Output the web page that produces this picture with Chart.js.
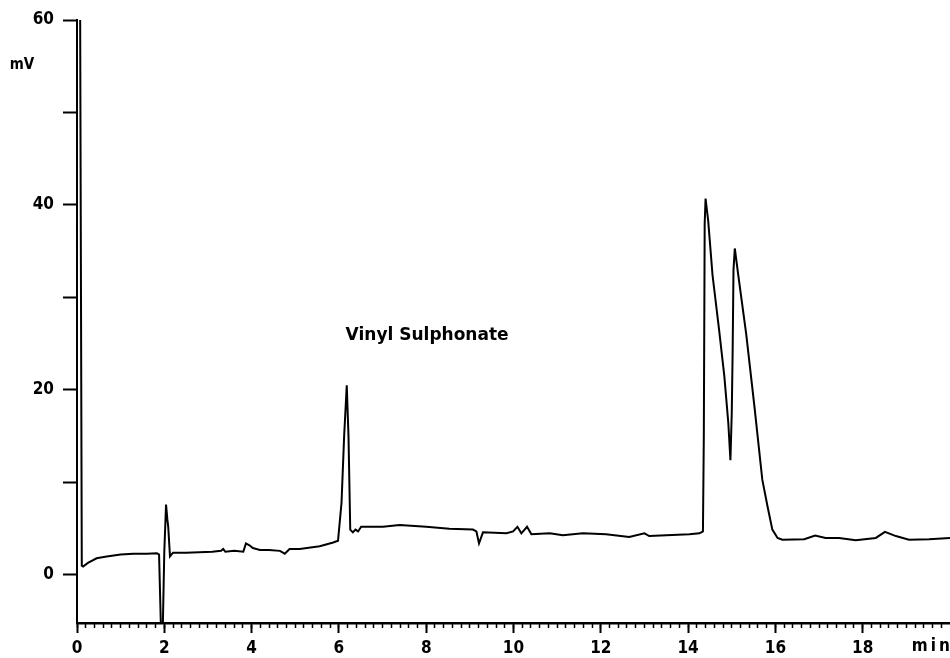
<!DOCTYPE html>
<html>
<head>
<meta charset="utf-8">
<title>Vinyl Sulphonate chromatogram</title>
<script src="https://cdn.jsdelivr.net/npm/chart.js@4/dist/chart.umd.min.js"></script>
<style>
    body { margin: 0; background: #fff; }
    #wrap { width: 950px; height: 658px; }
</style>
</head>
<body>
<div id="wrap"><canvas id="chromChart" width="950" height="658"></canvas></div>
<script>
// retention time (min) and detector signal (mV)
const timeMin = [
    0, 0.07, 0.11, 0.14, 0.25, 0.45, 0.68, 1.0, 1.29, 1.6, 1.83, 1.88, 1.93, 1.96,
    2.0, 2.04, 2.07, 2.09, 2.13, 2.2, 2.5, 2.8, 3.1, 3.3, 3.35, 3.4, 3.6, 3.81, 3.87,
    3.95, 4.03, 4.19, 4.4, 4.65, 4.76, 4.87, 5.1, 5.56, 5.87, 5.98, 6.06, 6.12, 6.18,
    6.22, 6.26, 6.32, 6.38, 6.44, 6.51, 7.01, 7.39, 8.0, 8.53, 9.07, 9.15, 9.21, 9.3,
    9.84, 9.99, 10.09, 10.18, 10.31, 10.41, 10.83, 11.13, 11.59, 12.12, 12.65, 13.0,
    13.11, 14.03, 14.26, 14.34, 14.36, 14.38, 14.4, 14.46, 14.56, 14.71, 14.83, 14.92,
    14.97, 15.0, 15.02, 15.04, 15.07, 15.15, 15.33, 15.52, 15.7, 15.82, 15.93, 16.05,
    16.16, 16.66, 16.91, 17.15, 17.46, 17.84, 18.3, 18.51, 18.76, 19.06, 19.52, 20.0
];
const signalMv = [
    64, 64, 1.0, 0.9, 1.3, 1.8, 2.0, 2.2, 2.3, 2.3, 2.35, 2.2, -7, -7,
    2.5, 7.6, 6.0, 5.2, 2.0, 2.4, 2.4, 2.45, 2.5, 2.6, 2.8, 2.5, 2.6, 2.5, 3.4,
    3.2, 2.9, 2.7, 2.7, 2.6, 2.3, 2.8, 2.8, 3.1, 3.5, 3.7, 7.8, 15, 20.5,
    15, 4.9, 4.6, 4.9, 4.7, 5.2, 5.2, 5.4, 5.2, 5.0, 4.9, 4.7, 3.4, 4.6,
    4.5, 4.7, 5.2, 4.5, 5.2, 4.4, 4.5, 4.3, 4.5, 4.4, 4.1, 4.5,
    4.2, 4.4, 4.5, 4.7, 15, 38, 40.7, 38.3, 32.4, 26.5, 21.5, 16.5,
    12.4, 17.5, 24, 33, 35.3, 32.4, 26.1, 18.2, 10.3, 7.4, 4.9, 4.0,
    3.8, 3.85, 4.25, 4.0, 4.0, 3.75, 4.0, 4.65, 4.2, 3.8, 3.85, 4.0
];
const yLabelTicks = [0, 20, 40, 60];
const peakLabel = {text: 'Vinyl Sulphonate', t: 8.02, mv: 25.9};

const tickFont = {family: 'DejaVu Sans Condensed', size: 17, weight: 'bold'};

// free text on the plot: unit labels and the peak name
const textLabels = {
    id: 'textLabels',
    afterDraw(chart) {
        const ctx = chart.ctx;
        const xs = chart.scales.x;
        const ys = chart.scales.y;
        ctx.save();
        ctx.fillStyle = '#000';
        ctx.textAlign = 'center';
        ctx.textBaseline = 'middle';

        ctx.font = 'bold 15px "DejaVu Sans Condensed"';
        ctx.fillText('mV', 22, 65);

        ctx.font = 'bold 17px "DejaVu Sans Condensed"';
        ctx.letterSpacing = '3px';
        ctx.fillText('min', xs.getPixelForValue(19.55) + 2, 647);
        ctx.letterSpacing = '0px';

        ctx.font = 'bold 17px "DejaVu Sans"';
        ctx.fillText(peakLabel.text, xs.getPixelForValue(peakLabel.t), ys.getPixelForValue(peakLabel.mv));
        ctx.restore();
    }
};

document.addEventListener('DOMContentLoaded', function () {
    const canvas = document.getElementById('chromChart');
    new Chart(canvas, {
        type: 'line',
        data: {
            datasets: [{
                data: timeMin.map((t, i) => ({x: t, y: signalMv[i]})),
                borderColor: '#000',
                borderWidth: 2,
                pointRadius: 0,
                tension: 0,
                fill: false
            }]
        },
        options: {
            responsive: false,
            animation: false,
            layout: {padding: {top: 20, right: 0, left: 0, bottom: 0}},
            plugins: {
                legend: {display: false},
                tooltip: {enabled: false}
            },
            scales: {
                x: {
                    type: 'linear',
                    position: 'bottom',
                    weight: 1,
                    min: 0,
                    max: 20,
                    afterBuildTicks: s => { s.ticks = s.ticks.filter(t => t.value < 20); },
                    afterFit: s => { s.height = 35; },
                    ticks: {
                        stepSize: 2,
                        autoSkip: false,
                        maxRotation: 0,
                        padding: 5,
                        color: '#000',
                        font: tickFont
                    },
                    grid: {drawOnChartArea: false, tickLength: 10, tickWidth: 2, tickColor: '#000'},
                    border: {color: '#000', width: 2.5}
                },
                xMinor: {
                    type: 'linear',
                    position: 'bottom',
                    weight: 0,
                    min: 0,
                    max: 20,
                    afterBuildTicks: s => { s.ticks = s.ticks.filter(t => t.value < 19.9); },
                    afterFit: s => { s.height = 0; },
                    ticks: {display: false, stepSize: 0.2, maxTicksLimit: 200, autoSkip: false},
                    grid: {drawOnChartArea: false, tickLength: 5, tickWidth: 1.5, tickColor: '#000'},
                    border: {display: false}
                },
                y: {
                    type: 'linear',
                    position: 'left',
                    min: -5.2,
                    max: 60,
                    afterFit: s => { s.width = 77; },
                    ticks: {
                        stepSize: 10,
                        includeBounds: false,
                        autoSkip: false,
                        padding: 9,
                        color: '#000',
                        font: tickFont,
                        callback: v => yLabelTicks.includes(v) ? v : ''
                    },
                    grid: {drawOnChartArea: false, tickLength: 14, tickWidth: 2, tickColor: '#000'},
                    border: {color: '#000', width: 2}
                }
            }
        },
        plugins: [textLabels]
    });
});
</script>
</body>
</html>
